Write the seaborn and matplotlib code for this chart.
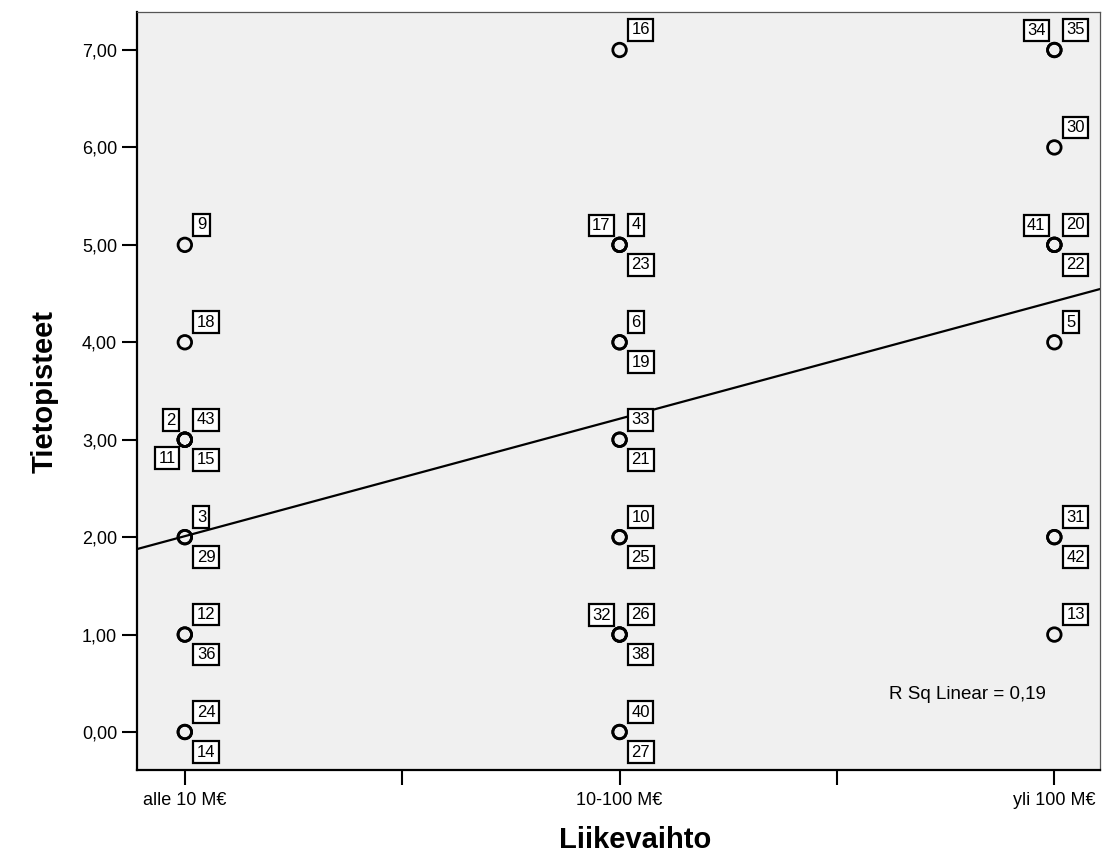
import numpy as np
import pandas as pd
import matplotlib
matplotlib.use("Agg")
import matplotlib.pyplot as plt
import seaborn as sns

# ---------------- data ----------------
category_labels = ["alle 10 M€", "10-100 M€", "yli 100 M€"]

cat1_cases = [9, 18, 43, 15, 2, 11, 3, 29, 12, 36, 24, 14]
cat1_values = [5, 4, 3, 3, 3, 3, 2, 2, 1, 1, 0, 0]

cat2_cases = [16, 4, 23, 17, 6, 19, 33, 21, 10, 25, 26, 38, 32, 40, 27]
cat2_values = [7, 5, 5, 5, 4, 4, 3, 3, 2, 2, 1, 1, 1, 0, 0]

cat3_cases = [35, 34, 30, 20, 22, 41, 5, 31, 42, 13]
cat3_values = [7, 7, 6, 5, 5, 5, 4, 2, 2, 1]

# fitted line values at first and last category
fit_at_first = 2.01
fit_at_last = 4.42
r_sq_text = "R Sq Linear = 0,19"

y_ticks = [0, 1, 2, 3, 4, 5, 6, 7]

# ---------------- build table ----------------
df = pd.DataFrame({
    "Liikevaihto": [1] * len(cat1_cases) + [2] * len(cat2_cases) + [3] * len(cat3_cases),
    "Tietopisteet": cat1_values + cat2_values + cat3_values,
    "case": cat1_cases + cat2_cases + cat3_cases,
})

# ---------------- style ----------------
sns.set_style("ticks")
plt.rcParams["font.family"] = ["Liberation Sans", "DejaVu Sans"]
for key in ["text.color", "axes.labelcolor", "xtick.color", "ytick.color"]:
    plt.rcParams[key] = "black"

W, H = 1102, 855
fig = plt.figure(figsize=(W / 100, H / 100), dpi=100)
ax = fig.add_axes([137 / W, (H - 770) / H, (1100 - 137) / W, (770 - 12) / H])
ax.set_facecolor("#F0F0F0")

# regression line
ax.axline((1, fit_at_first), (3, fit_at_last), color="black", lw=1.6, zorder=2)

# points
sns.scatterplot(data=df, x="Liikevaihto", y="Tietopisteet", ax=ax,
                marker="o", s=95, facecolor="none", edgecolor="black",
                linewidth=2.0, zorder=3, legend=False)

# case labels
px = 0.72  # points per pixel at dpi 100
slot_offsets = {
    "UR": ((12 * px, 20 * px), "left"),
    "LR": ((12 * px, -20 * px), "left"),
    "UL": ((-9 * px, 19.5 * px), "right"),
    "LL": ((-9 * px, -18.5 * px), "right"),
}
slot_order = ["UR", "LR", "UL", "LL"]
slot_override = {34: "UL"}

for (xv, yv), grp in df.groupby(["Liikevaihto", "Tietopisteet"], sort=False):
    for i, case in enumerate(grp["case"]):
        slot = slot_override.get(case, slot_order[i])
        off, ha = slot_offsets[slot]
        ax.annotate(str(case), xy=(xv, yv), xytext=off, textcoords="offset points",
                    ha=ha, va="center", fontsize=12, zorder=4,
                    bbox=dict(boxstyle="square,pad=0.2", fc="white", ec="black", lw=1.6))

# R squared text
ax.text(2.8, 0.38, r_sq_text, ha="center", va="center", fontsize=13.5)

# axes
ax.set_xlim(0.89, 3.105)
ax.set_ylim(-0.39, 7.39)
ax.set_xticks([1, 1.5, 2, 2.5, 3])
ax.set_xticklabels([category_labels[0], "", category_labels[1], "", category_labels[2]])
ax.set_yticks(y_ticks)
ax.set_yticklabels([f"{v:.2f}".replace(".", ",") for v in y_ticks])
ax.tick_params(axis="both", direction="out", length=10.8, width=1.5, labelsize=13, color="black")
ax.tick_params(axis="x", pad=5)
ax.tick_params(axis="y", pad=3.5)

for side in ["left", "bottom"]:
    ax.spines[side].set_linewidth(1.6)
    ax.spines[side].set_color("black")
for side in ["top", "right"]:
    ax.spines[side].set_visible(True)
    ax.spines[side].set_linewidth(0.9)
    ax.spines[side].set_color("#555555")

ax.set_xlabel("Liikevaihto", fontsize=21, fontweight="bold", va="center")
ax.set_ylabel("Tietopisteet", fontsize=21, fontweight="bold", va="center")
ax.xaxis.set_label_coords((635 - 137) / 963, (770 - 840) / 758)
ax.yaxis.set_label_coords((45 - 137) / 963, 0.5)

fig.savefig("out.png", dpi=100)
